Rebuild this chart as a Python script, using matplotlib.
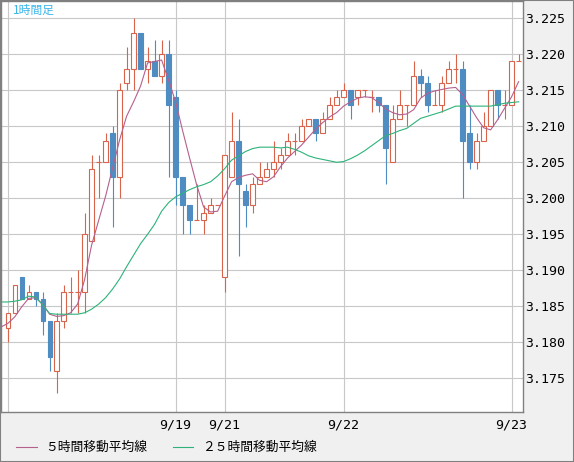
import matplotlib
matplotlib.use('Agg')
import matplotlib.pyplot as plt
from matplotlib.patches import Rectangle
from matplotlib.lines import Line2D
import numpy as np

plt.rcParams['font.family'] = ['Noto Sans CJK JP', 'DejaVu Sans']

# 1時間足 OHLC (74本)
opens = [3.182, 3.184, 3.189, 3.186, 3.187, 3.186, 3.183, 3.176, 3.183, 3.187,
         3.187, 3.187, 3.194, 3.205, 3.205, 3.209, 3.203, 3.216, 3.218, 3.223,
         3.218, 3.219, 3.217, 3.220, 3.214, 3.203, 3.199, 3.197, 3.197, 3.198,
         3.199, 3.189, 3.203, 3.208, 3.201, 3.199, 3.202, 3.203, 3.204, 3.205,
         3.206, 3.208, 3.208, 3.210, 3.211, 3.209, 3.211, 3.213, 3.214, 3.215,
         3.214, 3.215, 3.214, 3.214, 3.213, 3.205, 3.211, 3.213, 3.213, 3.217,
         3.216, 3.213, 3.213, 3.216, 3.218, 3.218, 3.209, 3.205, 3.208, 3.210,
         3.215, 3.213, 3.213, 3.219]
highs = [3.184, 3.188, 3.189, 3.188, 3.187, 3.187, 3.183, 3.184, 3.188, 3.189,
         3.190, 3.198, 3.206, 3.206, 3.209, 3.210, 3.216, 3.221, 3.225, 3.223,
         3.221, 3.222, 3.222, 3.222, 3.215, 3.203, 3.199, 3.202, 3.199, 3.200,
         3.199, 3.206, 3.212, 3.211, 3.202, 3.203, 3.205, 3.205, 3.208, 3.207,
         3.209, 3.209, 3.211, 3.211, 3.211, 3.212, 3.214, 3.215, 3.216, 3.215,
         3.215, 3.215, 3.215, 3.214, 3.213, 3.213, 3.215, 3.213, 3.219, 3.218,
         3.217, 3.215, 3.217, 3.219, 3.220, 3.219, 3.213, 3.209, 3.212, 3.215,
         3.215, 3.215, 3.219, 3.220]
lows = [3.180, 3.184, 3.186, 3.186, 3.185, 3.181, 3.176, 3.173, 3.182, 3.184,
        3.184, 3.184, 3.194, 3.200, 3.205, 3.196, 3.200, 3.215, 3.215, 3.218,
        3.216, 3.217, 3.216, 3.203, 3.199, 3.195, 3.195, 3.197, 3.195, 3.198,
        3.199, 3.187, 3.203, 3.192, 3.196, 3.198, 3.202, 3.203, 3.203, 3.204,
        3.206, 3.206, 3.208, 3.210, 3.208, 3.209, 3.211, 3.213, 3.214, 3.211,
        3.213, 3.214, 3.212, 3.212, 3.202, 3.205, 3.211, 3.210, 3.213, 3.214,
        3.212, 3.213, 3.212, 3.216, 3.216, 3.200, 3.204, 3.204, 3.208, 3.210,
        3.211, 3.211, 3.213, 3.219]
closes = [3.184, 3.188, 3.186, 3.187, 3.186, 3.183, 3.178, 3.183, 3.187, 3.187,
          3.187, 3.195, 3.204, 3.205, 3.208, 3.203, 3.215, 3.218, 3.223, 3.218,
          3.219, 3.217, 3.220, 3.213, 3.203, 3.199, 3.197, 3.197, 3.198, 3.199,
          3.199, 3.206, 3.208, 3.202, 3.199, 3.202, 3.203, 3.204, 3.205, 3.206,
          3.208, 3.208, 3.210, 3.211, 3.209, 3.211, 3.213, 3.214, 3.215, 3.213,
          3.215, 3.215, 3.214, 3.213, 3.207, 3.211, 3.213, 3.213, 3.217, 3.216,
          3.213, 3.213, 3.216, 3.218, 3.218, 3.208, 3.205, 3.208, 3.210, 3.215,
          3.213, 3.213, 3.219, 3.219]

# 移動平均線 (1本手前から)
ma5 = [3.1821,
       3.1826, 3.1835, 3.1849, 3.1861, 3.1862, 3.1853, 3.1839, 3.1836, 3.1837, 3.1841,
       3.1853, 3.1887, 3.1935, 3.1969, 3.2003, 3.2042, 3.2081, 3.2114, 3.2134, 3.2156,
       3.2188, 3.2190, 3.2192, 3.2164, 3.2134, 3.2094, 3.2056, 3.2019, 3.1988, 3.1981,
       3.1982, 3.2003, 3.2023, 3.2029, 3.2032, 3.2034, 3.2025, 3.2023, 3.2030, 3.2044,
       3.2056, 3.2065, 3.2074, 3.2085, 3.2096, 3.2105, 3.2113, 3.2119, 3.2128, 3.2134,
       3.2139, 3.2141, 3.2140, 3.2133, 3.2124, 3.2119, 3.2116, 3.2117, 3.2123, 3.2139,
       3.2146, 3.2149, 3.2151, 3.2153, 3.2154, 3.2144, 3.2128, 3.2112, 3.2098, 3.2095,
       3.2109, 3.2125, 3.2141, 3.2162]
ma25 = [3.1856,
        3.1856, 3.1857, 3.1859, 3.1864, 3.1863, 3.1852, 3.1840, 3.1839, 3.1839, 3.1839,
        3.1839, 3.1841, 3.1846, 3.1853, 3.1862, 3.1874, 3.1888, 3.1905, 3.1921, 3.1937,
        3.1950, 3.1964, 3.1982, 3.1994, 3.2002, 3.2007, 3.2012, 3.2016, 3.2019, 3.2023,
        3.2031, 3.2041, 3.2053, 3.2059, 3.2065, 3.2069, 3.2071, 3.2071, 3.2071, 3.2070,
        3.2071, 3.2068, 3.2064, 3.2059, 3.2056, 3.2054, 3.2052, 3.2050, 3.2051, 3.2055,
        3.2060, 3.2066, 3.2073, 3.2080, 3.2087, 3.2090, 3.2094, 3.2097, 3.2104, 3.2111,
        3.2114, 3.2117, 3.2120, 3.2124, 3.2128, 3.2128, 3.2128, 3.2128, 3.2128, 3.2128,
        3.2130, 3.2132, 3.2133, 3.2134]

date_pos = [0, 24, 31, 48, 72]
date_labels = ['', '9/19', '9/21', '9/22', '9/23']
price_ticks = [3.175, 3.180, 3.185, 3.190, 3.195, 3.200, 3.205, 3.210, 3.215, 3.220, 3.225]

up_col = '#d8644c'
down_col = '#4e8cc2'
ma5_col = '#b5608e'
ma25_col = '#2db37a'
grid_col = '#c8c8c8'
frame_col = '#808080'

W, H = 574, 462
fig = plt.figure(figsize=(W / 100, H / 100), dpi=100, facecolor='#f0f0f0')
ax = fig.add_axes([1 / W, 1 - 412 / H, 522 / W, 411 / H])
ax.set_facecolor('white')

n = len(opens)
x = np.arange(n)
is_up = np.array(closes) >= np.array(opens)
cols = [up_col if u else down_col for u in is_up]

ax.vlines(x, lows, highs, colors=cols, lw=0.8, zorder=2)
for i in range(n):
    o, c = opens[i], closes[i]
    face = 'white' if is_up[i] else down_col
    ax.add_patch(Rectangle((i - 0.3, min(o, c)), 0.6, abs(c - o),
                           facecolor=face, edgecolor=cols[i], lw=0.8, zorder=3))

xm = np.arange(-1, n)
ax.plot(xm, ma5, color=ma5_col, lw=0.8, zorder=4)
ax.plot(xm, ma25, color=ma25_col, lw=0.8, zorder=4)

ax.set_xlim(-0.943, 73.63)
ax.set_ylim(3.17032, 3.2274)

ax.yaxis.tick_right()
ax.set_yticks(price_ticks, [f'{p:.3f}' for p in price_ticks])
ax.set_xticks(date_pos, date_labels)
ax.tick_params(axis='y', length=0, pad=1.5, labelsize=9.5, labelfontfamily='DejaVu Sans Mono')
ax.tick_params(axis='x', length=0, pad=5, labelsize=9.5, labelfontfamily='DejaVu Sans Mono')
ax.grid(True, color=grid_col, lw=0.8)
ax.set_axisbelow(True)
for s in ax.spines.values():
    s.set_color(frame_col)
    s.set_linewidth(1.0)

fig.text(13 / W, 1 - 10.5 / H, '1時間足', color='#3cb7ea', fontsize=8.5, va='center')

# 凡例
ly = 1 - 447 / H
fig.add_artist(Line2D([16 / W, 37 / W], [ly, ly], color=ma5_col, lw=0.8))
fig.text(45 / W, ly, '５時間移動平均線', fontsize=9.2, va='center')
fig.add_artist(Line2D([173 / W, 193 / W], [ly, ly], color=ma25_col, lw=0.8))
fig.text(202 / W, ly, '２５時間移動平均線', fontsize=9.2, va='center')

fig.add_artist(Rectangle((0, 0), 1, 1, transform=fig.transFigure, fill=False,
                         edgecolor=frame_col, lw=1.5))

fig.savefig('out.png', dpi=100, facecolor=fig.get_facecolor())
